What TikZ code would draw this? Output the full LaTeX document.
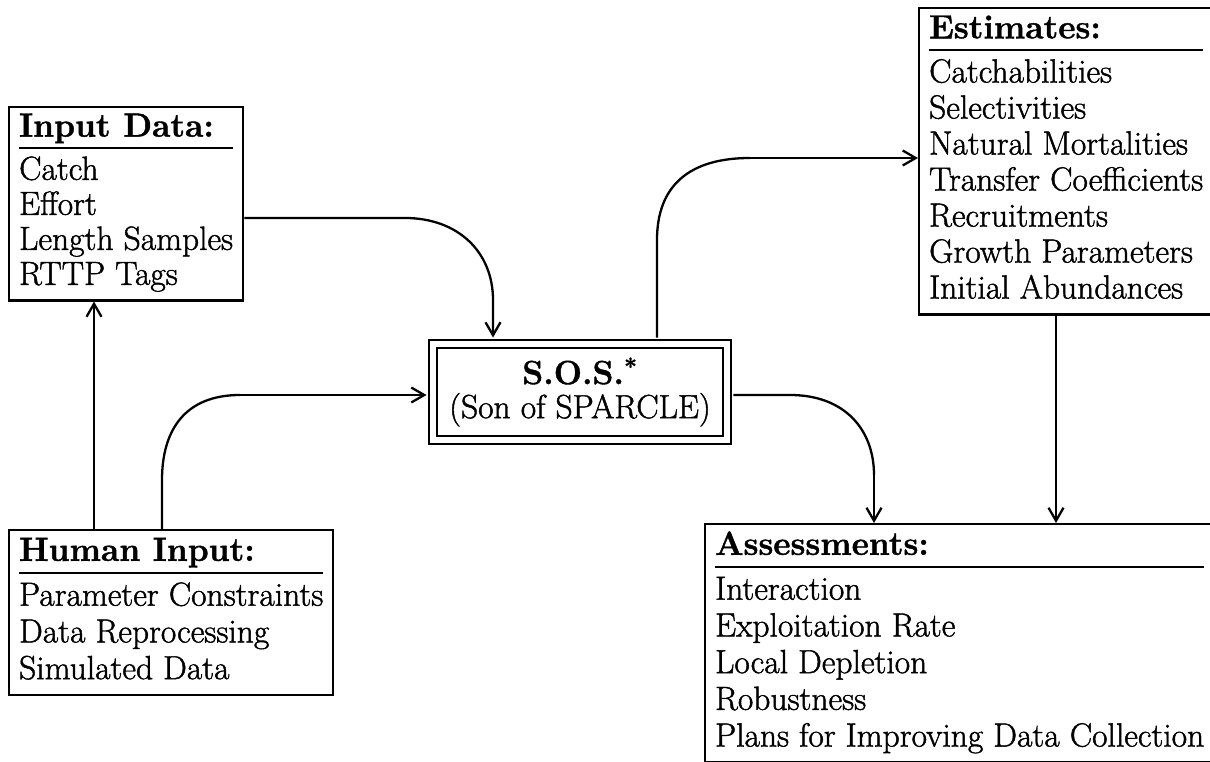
\documentclass[tikz,border=0pt]{standalone}
\usepackage{fontspec}
\usetikzlibrary{arrows.meta}
\newfontfamily\itemfont{Latin Modern Roman}[FakeBold=1.3]
\newfontfamily\headfont{Latin Modern Roman}[BoldFeatures={FakeBold=1.2}]
\setlength\arrayrulewidth{2.2pt}
\newcommand{\hdr}[1]{{\headfont\bfseries #1}}
\newcommand{\gap}{\noalign{\vskip 6pt}}
\begin{document}
\begin{tikzpicture}[x=1pt,y=-1pt,
  lst/.style={draw, line width=2.3pt, inner xsep=10pt, inner ysep=5pt, anchor=north west,
    font=\fontsize{33.5}{#1}\itemfont},
  lst/.default=36.7,
  sosbox/.style={draw, line width=2.3pt, double, double distance=6pt, align=center,
    minimum width=294pt, minimum height=96pt, font=\fontsize{33.5}{34}\itemfont},
  conn/.style={line width=2.3pt, -{Straight Barb[length=13pt,width=15pt,line width=2.3pt]}},
  ln/.style={line width=2.3pt}]
\useasboundingbox (0,0) rectangle (1210,762);
\node[lst=35] (inp) at (8,106) {\begin{tabular}{@{}l@{}}\hdr{Input Data:}\\\hline\gap
Catch\\Effort\\Length Samples\\RTTP Tags\end{tabular}};
\node[lst=36] (est) at (918,7) {\begin{tabular}{@{}l@{}}\hdr{Estimates:}\\\hline\gap
Catchabilities\\Selectivities\\Natural Mortalities\\Transfer Coefficients\\Recruitments\\Growth Parameters\\Initial Abundances\end{tabular}};
\node[lst] (hum) at (8,529) {\begin{tabular}{@{}l@{}}\hdr{Human Input:}\\\hline\gap
Parameter Constraints\\Data Reprocessing\\Simulated Data\end{tabular}};
\node[lst] (ass) at (704,523) {\begin{tabular}{@{}l@{}}\hdr{Assessments:}\\\hline\gap
Interaction\\Exploitation Rate\\Local Depletion\\Robustness\\Plans for Improving Data Collection\end{tabular}};
\node[sosbox] (sos) at (580,392) {\hdr{S.O.S.}\textsuperscript{\hdr{*}}\\(Son of SPARCLE)};

% Input Data -> SOS
\draw[conn, shorten >=5.3pt] (inp.east |- 0,218) -- (405,218)
  .. controls (458,218) and (493,252) .. (493,300) -- (sos.north -| 493,0);
% SOS -> Estimates
\draw[ln, shorten <=5.3pt] (sos.north -| 657,0) -- (657,240)
  .. controls (657,185) and (690,158) .. (750,158);
\draw[conn] (750,158) -- (est.west |- 0,158);
% SOS -> Assessments
\draw[ln, shorten <=5.3pt] (sos.east |- 0,395) -- (790,395)
  .. controls (845,395) and (874,430) .. (874,475);
\draw[conn] (874,475) -- (ass.north -| 874,0);
% Estimates -> Assessments
\draw[conn] (est.south -| 1056,0) -- (ass.north -| 1056,0);
% Human -> Input Data
\draw[conn] (hum.north -| 94,0) -- (inp.south -| 94,0);
% Human -> SOS
\draw[ln] (hum.north -| 162,0) -- (162,480)
  .. controls (162,430) and (185,395) .. (240,395);
\draw[conn, shorten >=5.3pt] (240,395) -- (sos.west |- 0,395);
\end{tikzpicture}
\end{document}
